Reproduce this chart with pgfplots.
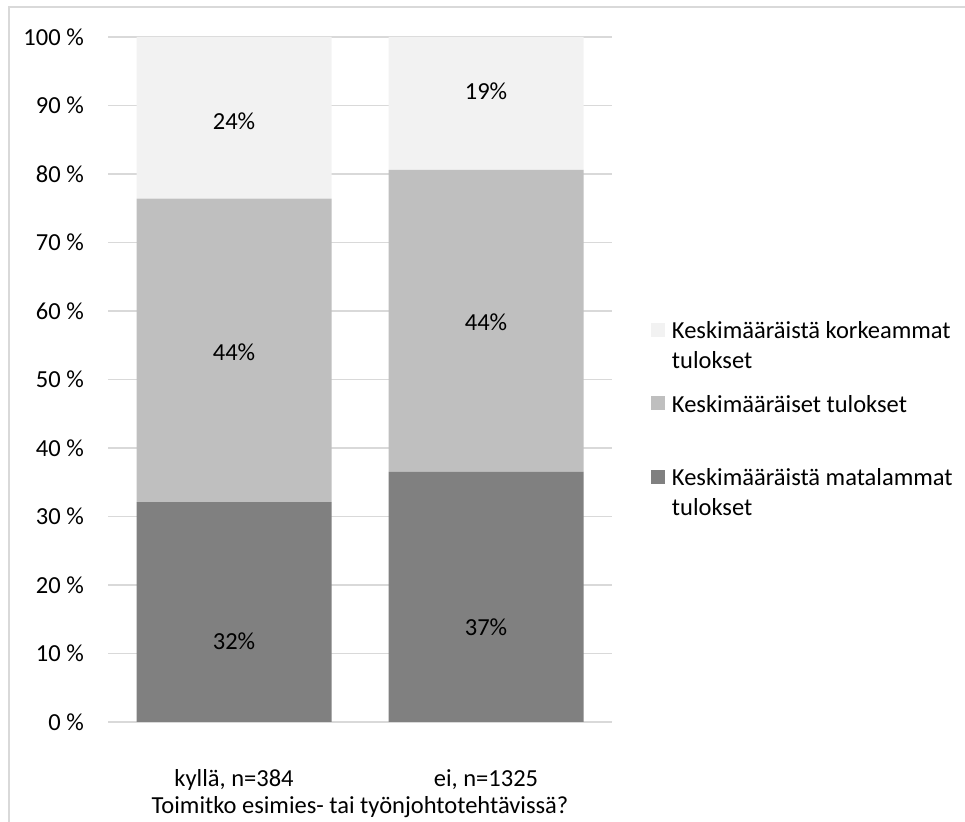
\documentclass[border=0pt]{standalone}
\usepackage{fontspec}
\setmainfont{Carlito}
\usepackage{pgfplots}
\pgfplotsset{compat=1.18}
\definecolor{cLow}{HTML}{808080}
\definecolor{cMid}{HTML}{BFBFBF}
\definecolor{cHigh}{HTML}{F2F2F2}
\definecolor{cGrid}{HTML}{D9D9D9}
\begin{document}
\fontsize{24.5bp}{30bp}\selectfont
\begin{tikzpicture}[x=1bp,y=1bp]
\path[use as bounding box] (0,0) rectangle (965,822);
\draw[cGrid, line width=1.2bp] (9,-10) -- (9,815) -- (975,815);
\begin{axis}[
  at={(108bp,100bp)}, anchor=south west,
  scale only axis, width=504bp, height=685bp,
  xmin=-0.5, xmax=1.5, ymin=0, ymax=100,
  ybar stacked, bar width=195bp,
  axis line style={draw=none},
  major tick length=0pt, tick style={draw=none},
  ymajorgrids, grid style={cGrid, line width=1.2bp},
  xtick={0,1}, xticklabels={{kyllä, n=384},{ei, n=1325}},
  ytick={0,10,20,30,40,50,60,70,80,90,100},
  yticklabels={0 \%,10 \%,20 \%,30 \%,40 \%,50 \%,60 \%,70 \%,80 \%,90 \%,100 \%},
  yticklabel style={anchor=east, inner sep=0pt, xshift=-24bp},
  xticklabel style={anchor=base, inner sep=0pt, yshift=-65bp},
  xlabel={Toimitko esimies- tai työnjohtotehtävissä?},
  xlabel style={at={(axis description cs:0.5,0)}, anchor=base, inner sep=0pt, yshift=-91.5bp},
  reverse legend,
  legend cell align=left,
  legend style={draw=none, fill=none, at={(axis description cs:1.071,0.465)}, anchor=west, row sep=45bp, font=\fontsize{24.5bp}{30bp}\selectfont},
]
\addplot[fill=cLow, draw=none, legend image code/.code={\fill[cLow] (0bp,-7bp) rectangle (14bp,7bp); \path (19bp,0bp);}] coordinates {(0,32.1) (1,36.5)};
\addlegendentry{{\begin{tabular}[t]{@{}l@{}}Keskimääräistä matalammat\\tulokset\end{tabular}}}
\addplot[fill=cMid, draw=none, legend image code/.code={\fill[cMid] (0bp,-7bp) rectangle (14bp,7bp); \path (19bp,0bp);}] coordinates {(0,44.3) (1,44.1)};
\addlegendentry{{\begin{tabular}[t]{@{}l@{}}Keskimääräiset tulokset\\\mbox{}\end{tabular}}}
\addplot[fill=cHigh, draw=none, legend image code/.code={\fill[cHigh] (0bp,-7bp) rectangle (14bp,7bp); \path (19bp,0bp);}] coordinates {(0,23.6) (1,19.4)};
\addlegendentry{{\begin{tabular}[t]{@{}l@{}}Keskimääräistä korkeammat\\tulokset\end{tabular}}}
\draw[cGrid, line width=1.2bp] (rel axis cs:0,0) -- ++(0,-110bp);
\draw[cGrid, line width=1.2bp] (rel axis cs:1,0) -- ++(0,-110bp);
\end{axis}
\begin{axis}[
  at={(108bp,100bp)}, anchor=south west,
  scale only axis, width=504bp, height=685bp,
  xmin=-0.5, xmax=1.5, ymin=0, ymax=100,
  hide axis,
]
\addplot[draw=none, mark=none, nodes near coords={\pgfplotspointmeta\%}, point meta=explicit symbolic,
  every node near coord/.append style={anchor=center, inner sep=0pt, font=\fontsize{24.5bp}{30bp}\selectfont}]
  table[meta=lab] {
x y lab
0 11.8 32
0 54.0 44
0 87.7 24
1 13.9 37
1 58.4 44
1 92.1 19
};
\end{axis}
\end{tikzpicture}
\end{document}
